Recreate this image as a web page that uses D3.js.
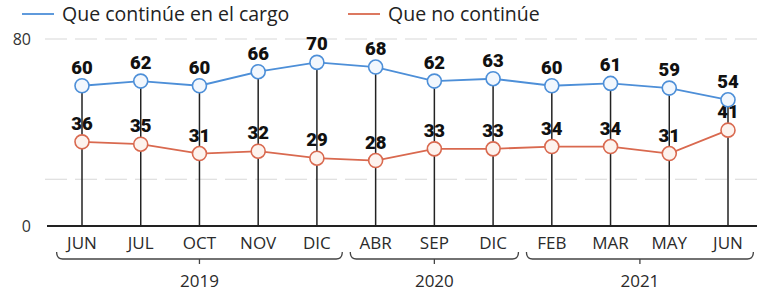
<!DOCTYPE html>
<meta charset="utf-8">
<style>
    body { margin: 0; background: #fff; overflow: hidden; }
    text { font-family: "Open Sans", Lato, sans-serif; }
    .val { font-family: Roboto, "Open Sans", sans-serif; }
</style>
<svg id="canvas" width="766" height="297"></svg>
<script src="https://d3js.org/d3.v7.min.js"></script>
<script>

    var months = ["JUN", "JUL", "OCT", "NOV", "DIC", "ABR", "SEP", "DIC", "FEB", "MAR", "MAY", "JUN"];
    var continua = [60, 62, 60, 66, 70, 68, 62, 63, 60, 61, 59, 54];
    var noContinua = [36, 35, 31, 32, 29, 28, 33, 33, 34, 34, 31, 41];
    var years = [
        {label: "2019", from: 0, to: 4},
        {label: "2020", from: 5, to: 7},
        {label: "2021", from: 8, to: 11}
    ];
    var yTicks = [0, 80];
    var gridTicks = [20, 80];

    var svg = d3.select("#canvas");

    var x = d3.scalePoint().domain(d3.range(months.length)).range([82, 728]);
    var y = d3.scaleLinear().domain([0, 80]).range([226, 39]);

    var blue = "#4d8fd8", red = "#d9694f";

    // gridlines
    svg.append("g").selectAll("line")
        .data(gridTicks).enter().append("line")
        .attr("x1", 45).attr("x2", 760)
        .attr("y1", function(d) { return y(d); })
        .attr("y2", function(d) { return y(d); })
        .attr("stroke", "#d8d8d8")
        .attr("stroke-width", 1.2)
        .attr("stroke-dasharray", "22,8");

    // y labels
    svg.append("g").selectAll("text")
        .data(yTicks).enter().append("text")
        .attr("x", 31).attr("y", function(d) { return y(d) + 6; })
        .attr("text-anchor", "end")
        .attr("font-size", 16).attr("fill", "#333")
        .text(function(d) { return d; });

    // vertical stems
    svg.append("g").selectAll("line")
        .data(continua).enter().append("line")
        .attr("x1", function(d, i) { return x(i); })
        .attr("x2", function(d, i) { return x(i); })
        .attr("y1", function(d) { return y(d); })
        .attr("y2", y(0))
        .attr("stroke", "#222").attr("stroke-width", 1.5);

    // baseline
    svg.append("line")
        .attr("x1", 47).attr("x2", 757)
        .attr("y1", y(0)).attr("y2", y(0))
        .attr("stroke", "#222").attr("stroke-width", 2.2);

    var line = d3.line()
        .x(function(d, i) { return x(i); })
        .y(function(d) { return y(d); });

    function series(data, color, fill) {
        svg.append("path").datum(data)
            .attr("d", line).attr("fill", "none")
            .attr("stroke", color).attr("stroke-width", 1.8);
        svg.append("g").selectAll("circle")
            .data(data).enter().append("circle")
            .attr("cx", function(d, i) { return x(i); })
            .attr("cy", function(d) { return y(d); })
            .attr("r", 7)
            .attr("fill", fill).attr("stroke", color).attr("stroke-width", 1.6);
        svg.append("g").selectAll("text")
            .data(data).enter().append("text")
            .attr("class", "val")
            .attr("x", function(d, i) { return x(i); })
            .attr("y", function(d) { return y(d) - 12; })
            .attr("text-anchor", "middle")
            .attr("font-size", 18.5).attr("font-weight", 900)
            .attr("fill", "#111")
            .text(function(d) { return d; });
    }

    series(noContinua, red, "#fdf3ee");
    series(continua, blue, "#f2f7fd");

    // month labels
    svg.append("g").selectAll("text")
        .data(months).enter().append("text")
        .attr("x", function(d, i) { return x(i); })
        .attr("y", 249)
        .attr("text-anchor", "middle")
        .attr("font-size", 17).attr("fill", "#2a2a2a")
        .text(function(d) { return d; });

    // year brackets
    var half = (x(1) - x(0)) / 2;
    var bracket = svg.append("g").selectAll("g")
        .data(years).enter().append("g");
    bracket.append("path")
        .attr("d", function(d) {
            var a = x(d.from) - half + 4, b = x(d.to) + half - 4, c = (a + b) / 2;
            return "M" + a + ",252 Q" + a + ",259 " + (a + 6) + ",259 L" + (b - 6) + ",259 Q" + b + ",259 " + b + ",252" +
                   "M" + c + ",259 L" + c + ",264";
        })
        .attr("fill", "none").attr("stroke", "#444").attr("stroke-width", 1.3);
    bracket.append("text")
        .attr("x", function(d) { return (x(d.from) + x(d.to)) / 2; })
        .attr("y", 287)
        .attr("text-anchor", "middle")
        .attr("font-size", 17).attr("fill", "#2a2a2a")
        .text(function(d) { return d.label; });

    // legend
    var legend = [
        {label: "Que continúe en el cargo", color: blue, x: 22},
        {label: "Que no continúe", color: red, x: 348}
    ];
    var lg = svg.append("g").selectAll("g").data(legend).enter().append("g");
    lg.append("line")
        .attr("x1", function(d) { return d.x; })
        .attr("x2", function(d) { return d.x + 32; })
        .attr("y1", 14).attr("y2", 14)
        .attr("stroke", function(d) { return d.color; }).attr("stroke-width", 1.8);
    lg.append("text")
        .attr("x", function(d) { return d.x + 40; })
        .attr("y", 21)
        .attr("font-size", 19.5).attr("fill", "#222")
        .text(function(d) { return d.label; });

</script>
